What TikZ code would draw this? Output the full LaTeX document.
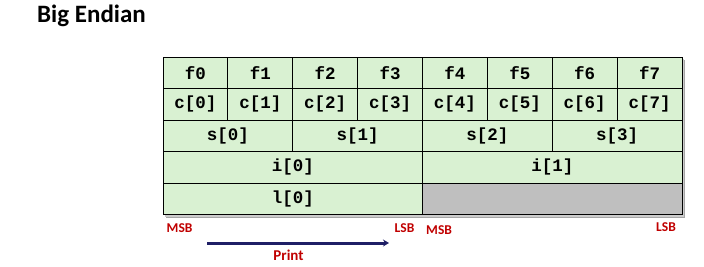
\documentclass[tikz,border=0pt]{standalone}
\usepackage{fontspec}
\setmainfont{Carlito}
\newfontfamily\codefont{Liberation Mono}
\usetikzlibrary{arrows.meta}
\definecolor{cellgreen}{HTML}{D9F1D2}
\definecolor{cellgray}{HTML}{BFBFBF}
\definecolor{labelred}{HTML}{C00000}
\definecolor{arrownavy}{HTML}{1F1F66}
\begin{document}
\begin{tikzpicture}[x=1pt,y=-1pt,
  cell/.style={draw=black, line width=0.8pt, fill=cellgreen, inner sep=0pt,
    minimum height=31.5pt, font=\codefont\bfseries\fontsize{17.5}{19}\selectfont},
  cell1/.style={cell, minimum width=64.875pt},
  cell2/.style={cell, minimum width=129.75pt},
  cell4/.style={cell, minimum width=259.5pt},
  blank/.style={cell4, fill=cellgray},
  endlabel/.style={text=labelred, font=\bfseries\fontsize{13.5}{15}\selectfont, inner sep=0pt},
]
\useasboundingbox (0,0) rectangle (704,266);

% title
\node[anchor=west, inner sep=0pt, font=\bfseries\fontsize{25}{28}\selectfont] (title) at (37,16) {Big Endian};

% drop shadow behind the table
\fill[black!35] (166,60) rectangle (685,217.5);
\fill[black!20] (165,59) rectangle (684,216.5);

% row 1: bytes
\foreach \k/\t in {0/f0,1/f1,2/f2,3/f3,4/f4,5/f5,6/f6,7/f7}
  \node[cell1] (f\k) at ({163+64.875*(\k+0.5)},72.75) {\t};
% row 2: chars
\foreach \k in {0,...,7}
  \node[cell1] (c\k) at ({163+64.875*(\k+0.5)},104.25) {c[\k]};
% row 3: shorts
\foreach \k in {0,...,3}
  \node[cell2] (s\k) at ({163+129.75*(\k+0.5)},135.75) {s[\k]};
% row 4: ints
\foreach \k in {0,1}
  \node[cell4] (i\k) at ({163+259.5*(\k+0.5)},167.25) {i[\k]};
% row 5: long and unused half
\node[cell4] (l0) at (292.75,198.75) {l[0]};
\node[blank] (pad) at (552.25,198.75) {};

% byte-order labels
\node[endlabel, anchor=north west] (msb1) at (166.5,223.5) {MSB};
\node[endlabel, anchor=north west] (lsb1) at (394.5,223.5) {LSB};
\node[endlabel, anchor=north west] (msb2) at (426,225.5) {MSB};
\node[endlabel, anchor=north west] (lsb2) at (656,222) {LSB};

% print direction
\coordinate (pstart) at (207,243);
\coordinate (pend) at (389,243);
\draw[arrownavy, line width=3pt, -{Stealth[length=6pt,width=7pt]}] (pstart) -- (pend);
\node[text=labelred, font=\bfseries\fontsize{15}{17}\selectfont, inner sep=0pt] (print) at (288.5,255) {Print};
\end{tikzpicture}
\end{document}
